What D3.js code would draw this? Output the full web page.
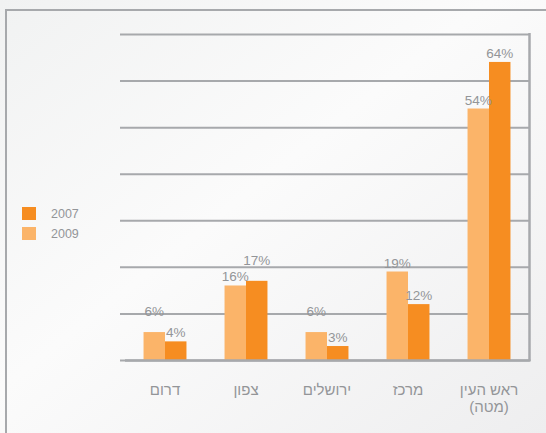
<!DOCTYPE html>
<html lang="he">
<head>
<meta charset="utf-8">
<script src="https://cdn.jsdelivr.net/npm/d3@7"></script>
<style>
  html, body { margin: 0; padding: 0; background: #f6f6f6; }
  svg { display: block; }
  text { font-family: "Liberation Sans", Arial, sans-serif; fill: #939598; }
</style>
</head>
<body>
<svg id="chart" width="546" height="433"></svg>
<script>
// Regions (each label may span two lines)
const categories = [["דרום"], ["צפון"], ["ירושלים"], ["מרכז"], ["ראש העין", "(מטה)"]];
const categoryKeys = ["דרום", "צפון", "ירושלים", "מרכז", "ראש העין"];
// Share per region, percent
const values2009 = [6, 16, 6, 19, 54];
const values2007 = [4, 17, 3, 12, 64];
const seriesNames = ["2007", "2009"];
const gridValues = [0, 10, 20, 30, 40, 50, 60, 70];

const colors = { "2007": "#f68d21", "2009": "#fbb469" };
const lineColor = "#a7a9ac";

const svg = d3.select("#chart");

// soft diagonal background
const defs = svg.append("defs");
const grad = defs.append("linearGradient").attr("id", "bg")
  .attr("x1", "0%").attr("y1", "0%").attr("x2", "100%").attr("y2", "100%");
grad.append("stop").attr("offset", "0%").attr("stop-color", "#f1f2f2");
grad.append("stop").attr("offset", "45%").attr("stop-color", "#fbfbfb");
grad.append("stop").attr("offset", "100%").attr("stop-color", "#eeeeef");
svg.append("rect").attr("width", 546).attr("height", 433).attr("fill", "url(#bg)");

// outer frame (top and left edges)
svg.append("path")
  .attr("d", "M6,433 V10 H546")
  .attr("fill", "none").attr("stroke", lineColor).attr("stroke-width", 2);

const y = d3.scaleLinear().domain([0, 70]).range([360, 34]);
const x = d3.scaleBand().domain(categoryKeys).range([124.5, 529.5])
  .paddingInner(0.47).paddingOuter(0.235);
const xs = d3.scaleBand().domain(["2009", "2007"]).range([0, x.bandwidth()]);

// horizontal grid
const gridAxis = d3.axisLeft(y).tickValues(gridValues).tickSize(-(529.5 - 120)).tickFormat("");
const g = svg.append("g").attr("transform", "translate(120,0)").call(gridAxis);
g.select(".domain").remove();
g.selectAll(".tick line").attr("stroke", lineColor).attr("stroke-width", 2);

// right edge of plot
svg.append("line")
  .attr("x1", 529.5).attr("x2", 529.5).attr("y1", y(70) - 1).attr("y2", y(0) + 1)
  .attr("stroke", lineColor).attr("stroke-width", 2.5);

const rows = categoryKeys.map((k, i) => ({
  key: k,
  bars: [
    { series: "2009", value: values2009[i], other: values2007[i] },
    { series: "2007", value: values2007[i], other: values2009[i] }
  ]
}));

const groups = svg.append("g").selectAll("g").data(rows).join("g")
  .attr("transform", d => `translate(${x(d.key)},0)`);

groups.selectAll("rect").data(d => d.bars).join("rect")
  .attr("x", d => xs(d.series))
  .attr("width", xs.bandwidth())
  .attr("y", d => y(d.value))
  .attr("height", d => y(0) - y(d.value))
  .attr("fill", d => colors[d.series]);

// value labels; when the two bars are nearly level, lift the taller one's label
const labelY = d => {
  const base = y(d.value) - 4;
  const close = Math.abs(y(d.value) - y(d.other)) < 14;
  return close && d.value > d.other ? base - 12 : base;
};
groups.selectAll("text.val").data(d => d.bars).join("text")
  .attr("class", "val")
  .attr("x", d => xs(d.series) + xs.bandwidth() / 2)
  .attr("y", labelY)
  .attr("text-anchor", "middle")
  .style("font-size", "13.5px")
  .text(d => d.value + "%");

// redraw baseline over bars
svg.append("line")
  .attr("x1", 125).attr("x2", 530.5).attr("y1", y(0) + 0.5).attr("y2", y(0) + 0.5)
  .attr("stroke", lineColor).attr("stroke-width", 2.5);

// category labels
const cat = svg.append("g").selectAll("text").data(categories).join("text")
  .attr("direction", "rtl")
  .attr("text-anchor", "middle")
  .style("font-size", "15px")
  .attr("transform", (d, i) => `translate(${x(categoryKeys[i]) + x.bandwidth() / 2},395)`);
cat.selectAll("tspan").data(d => d).join("tspan")
  .attr("x", 0)
  .attr("y", (d, j) => j * 17)
  .text(d => d);

// legend
const legend = svg.append("g").selectAll("g").data(seriesNames).join("g")
  .attr("transform", (d, i) => `translate(22,${207 + i * 20})`);
legend.append("rect").attr("width", 14).attr("height", 13).attr("fill", d => colors[d]);
legend.append("text").attr("x", 29).attr("y", 11).style("font-size", "12.5px").text(d => d);
</script>
</body>
</html>
